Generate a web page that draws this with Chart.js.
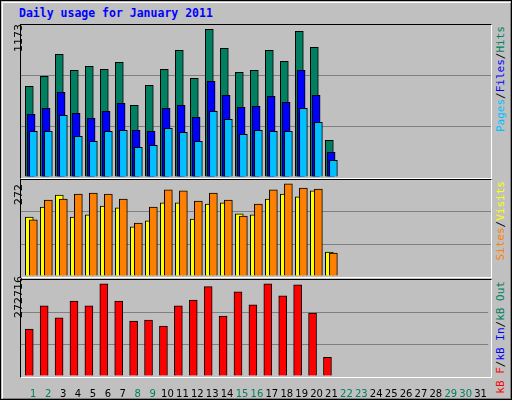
<!DOCTYPE html>
<html><head><meta charset="utf-8">
<script src="https://cdn.jsdelivr.net/npm/chart.js@4"></script>
<style>
html,body{margin:0;padding:0;}
body{width:512px;height:400px;background:#fff;position:relative;overflow:hidden;}
#frame{position:absolute;left:0;top:0;width:510px;height:398px;border:1px solid #000;background:#C0C0C0;}
#inner{position:absolute;left:1px;top:1px;width:507px;height:395px;border-top:1px solid #fff;border-left:1px solid #fff;border-right:1px solid #808080;border-bottom:1px solid #808080;}
.title{position:absolute;left:19px;top:6px;font:bold 11.5px "DejaVu Sans Mono",monospace;color:#0000FF;}
.panel{position:absolute;left:20px;width:470px;border-top:1px solid #000;border-left:1px solid #000;border-right:1px solid #fff;border-bottom:1px solid #fff;}
canvas{position:absolute;}
.yl{position:absolute;font:11px "DejaVu Sans",sans-serif;color:#000;transform-origin:0 0;transform:rotate(-90deg);white-space:nowrap;}
.rl{position:absolute;font:11px "DejaVu Sans Mono",monospace;transform-origin:100% 0;transform:rotate(-90deg);white-space:nowrap;text-align:right;}
</style></head><body>
<div id="frame"><div id="inner"></div></div>
<div class="title">Daily usage for January 2011</div>
<div class="panel" style="top:24px;height:153px"></div>
<div class="panel" style="top:179px;height:97px"></div>
<div class="panel" style="top:279px;height:97px"></div>
<canvas id="c1" style="left:21px;top:25px;width:470px;height:152px" width="470" height="152"></canvas>
<canvas id="c2" style="left:21px;top:180px;width:470px;height:96px" width="470" height="96"></canvas>
<canvas id="c3" style="left:21px;top:280px;width:470px;height:120px" width="470" height="120"></canvas>
<div class="yl" style="left:12px;top:52px">1173</div>
<div class="yl" style="left:12px;top:205px">272</div>
<div class="yl" style="left:12px;top:318px">272716</div>
<div class="rl" style="left:494px;top:26px;width:0"><div style="position:absolute;right:0;top:0;width:160px;text-align:right"><span style="color:#00C0FF">Pages</span>/<span style="color:#0000FF">Files</span>/<span style="color:#008060">Hits</span></div></div>
<script>
const days = Array.from({length:31},(_,i)=>String(i+1));
const weekend = [1,2,8,9,15,16,22,23,29,30];
const hits  = [700,777,947,823,854,831,885,553,708,831,978,762,1140,993,808,823,978,893,1124,1001,283];
const files = [484,530,654,492,453,507,569,360,353,530,553,461,739,630,538,546,623,576,823,630,191];
const pages = [353,353,476,314,275,353,360,229,245,376,345,275,507,445,330,360,353,353,530,422,129];
const visits= [167,195,229,167,173,198,193,139,156,207,207,161,204,207,176,173,218,232,224,241,68];
const sites = [159,215,218,232,235,232,218,150,195,244,241,212,235,215,170,204,244,261,249,246,65];
const kbytes= [133000,199000,165000,213000,199000,262000,213000,156000,159000,142000,199000,216000,254000,170000,239000,202000,262000,228000,259000,179000,53000];
const maxTop=1173, maxMid=272, maxBot=272716;

const SPAN=31.33, BASE=0.447;
function xAxis(shift,show){
  return {type:'linear',display:!!show,min:BASE-shift,max:BASE-shift+SPAN,offset:false,
    grid:{display:false},border:{display:false},
    afterBuildTicks:s=>{s.ticks=days.map(d=>({value:+d}));},
    ticks:{display:!!show,autoSkip:false,maxRotation:0,padding:4,
      font:{family:'DejaVu Sans',size:10},
      color:c=>weekend.includes(c.tick.value)?'#008060':'#000',
      callback:v=>days[v-1]},
    afterFit:s=>{if(show)s.height=24;}};
}
function yAxis(max){
  return {min:0,max:max,display:true,border:{display:false},
    ticks:{display:false,stepSize:max/3},
    grid:{drawTicks:false,lineWidth:1,color:c=>(c.index===0||c.index===3)?'transparent':'#808080'},
    afterFit:s=>{s.width=0;}};
}
function ds(data,color,axis,order){
  return {data:data.map((v,i)=>({x:i+1,y:v})),backgroundColor:color,borderColor:'#000',borderWidth:1,
    borderSkipped:'bottom',barThickness:8,xAxisID:axis,grouped:false,order:order};
}
const common={responsive:false,animation:false,events:[],
  layout:{padding:0},plugins:{legend:{display:false},tooltip:{enabled:false}}};
Chart.defaults.devicePixelRatio=1;
new Chart(document.getElementById('c1'),{type:'bar',
  data:{datasets:[ds(hits,'#008060','xh',3),ds(files,'#0000FF','xf',2),ds(pages,'#00C0FF','xp',1)]},
  options:{...common,scales:{xh:xAxis(0),xf:xAxis(0.12),xp:xAxis(0.27),y:yAxis(maxTop)}}});
new Chart(document.getElementById('c2'),{type:'bar',
  data:{datasets:[ds(visits,'#FFFF00','xv',2),ds(sites,'#FF8000','xs',1)]},
  options:{...common,scales:{xv:xAxis(0),xs:xAxis(0.27),y:yAxis(maxMid)}}});
new Chart(document.getElementById('c3'),{type:'bar',
  data:{datasets:[ds(kbytes,'#FF0000','xk',1)]},
  options:{...common,scales:{xk:xAxis(0),xl:xAxis(0.27,true),y:yAxis(maxBot)}}});
</script>
<div class="rl" style="left:494px;top:181px;width:0"><div style="position:absolute;right:0;top:0;width:100px;text-align:right"><span style="color:#FF8000">Sites</span>/<span style="color:#FFFF00">Visits</span></div></div>
<div class="rl" style="left:494px;top:281px;width:0"><div style="position:absolute;right:0;top:0;width:160px;text-align:right"><span style="color:#FF0000">kB F</span>/<span style="color:#0000FF">kB In</span>/<span style="color:#008060">kB Out</span></div></div>
</body></html>
